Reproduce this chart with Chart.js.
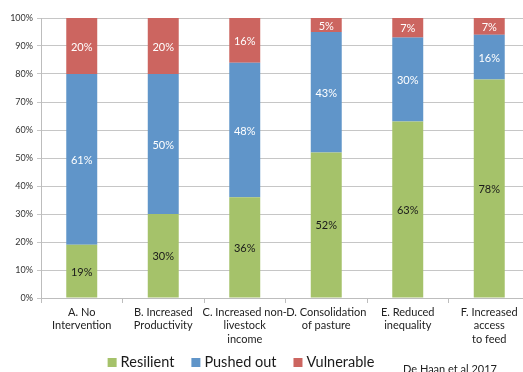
<!DOCTYPE html>
<html>
<head>
<meta charset="utf-8">
<script src="https://cdn.jsdelivr.net/npm/chart.js@4"></script>
<style>
html,body{margin:0;padding:0;background:#fff;overflow:hidden;}
#wrap{width:540px;height:372px;position:relative;}
</style>
</head>
<body>
<div id="wrap"><canvas id="c"></canvas></div>
<script>
const categories = [
  ["A. No", "Intervention"],
  ["B. Increased", "Productivity"],
  ["C. Increased non-", "livestock", "income"],
  ["D. Consolidation", "of pasture"],
  ["E. Reduced", "inequality"],
  ["F. Increased", "access", "to feed"]
];
const seriesNames = ["Resilient", "Pushed out", "Vulnerable"];
const resilient = [19, 30, 36, 52, 63, 78];
const pushedOut = [61, 50, 48, 43, 30, 16];
const vulnerable = [20, 20, 16, 5, 7, 7];
const yTicks = [0, 10, 20, 30, 40, 50, 60, 70, 80, 90, 100];
const sourceNote = "De Haan et al 2017";

const colors = ["#A5C26A", "#6095C9", "#CC6560"];
const labelColors = ["#1a1a1a", "#ffffff", "#ffffff"];
const FONT = "Lato, 'Open Sans', sans-serif";

const dataLabels = {
  id: 'dataLabels',
  afterDatasetsDraw(chart) {
    const ctx = chart.ctx;
    const area = chart.chartArea;
    ctx.save();
    ctx.font = "11px " + FONT;
    ctx.textAlign = 'center';
    ctx.textBaseline = 'middle';
    chart.data.datasets.forEach((ds, di) => {
      const meta = chart.getDatasetMeta(di);
      meta.data.forEach((bar, i) => {
        const top = Math.max(bar.y, area.top);
        const bot = Math.min(bar.base, area.bottom);
        ctx.fillStyle = labelColors[di];
        ctx.fillText(ds.data[i] + '%', bar.x, (top + bot) / 2 + 1);
      });
    });
    ctx.restore();
  }
};

const customLegend = {
  id: 'customLegend',
  afterDraw(chart) {
    const ctx = chart.ctx;
    ctx.save();
    ctx.font = "14.5px " + FONT;
    ctx.textBaseline = 'alphabetic';
    const box = 9, gap = 4, spacing = 17;
    const items = chart.data.datasets.map(d => ({label: d.label, color: d.backgroundColor, w: ctx.measureText(d.label).width}));
    const total = items.reduce((s, it) => s + box + gap + it.w, 0) + spacing * (items.length - 1);
    let x = 241 - total / 2;
    const baseline = 367;
    items.forEach(it => {
      ctx.fillStyle = it.color;
      ctx.fillRect(x, 358, box, box);
      x += box + gap;
      ctx.fillStyle = '#1a1a1a';
      ctx.fillText(it.label, x, baseline);
      x += it.w + spacing;
    });
    ctx.font = "11px " + FONT;
    ctx.fillStyle = '#222';
    ctx.fillText(sourceNote, 403, 373);
    ctx.restore();
  }
};

new Chart(document.getElementById('c'), {
  type: 'bar',
  data: {
    labels: categories,
    datasets: [
      {label: seriesNames[0], data: resilient, backgroundColor: colors[0]},
      {label: seriesNames[1], data: pushedOut, backgroundColor: colors[1]},
      {label: seriesNames[2], data: vulnerable, backgroundColor: colors[2]}
    ]
  },
  options: {
    responsive: true,
    maintainAspectRatio: false,
    animation: false,
    layout: {padding: {left: 0, top: 18, right: 10, bottom: 0}},
    datasets: {bar: {barPercentage: 0.38, categoryPercentage: 1.0, borderWidth: 0}},
    plugins: {legend: {display: false}, tooltip: {enabled: false}},
    scales: {
      x: {
        stacked: true,
        offset: true,
        grid: {offset: true, drawOnChartArea: false, drawTicks: true, tickLength: 5, color: '#BDBDBD'},
        border: {color: '#BDBDBD', width: 1},
        ticks: {font: {size: 11, family: FONT, lineHeight: 1.2}, color: '#222', padding: 3, maxRotation: 0, autoSkip: false},
        afterFit(s) { s.height = 74; }
      },
      y: {
        stacked: true,
        min: 0, max: 100,
        afterBuildTicks(s) { s.ticks = yTicks.map(v => ({value: v})); },
        grid: {color: '#C6C6C6', drawTicks: true, tickLength: 4},
        border: {color: '#BDBDBD', width: 1},
        ticks: {font: {size: 9, family: FONT}, color: '#333', padding: 4, callback: v => v + '%'},
        afterFit(s) { s.width = 41; }
      }
    }
  },
  plugins: [dataLabels, customLegend]
});
</script>
</body>
</html>
